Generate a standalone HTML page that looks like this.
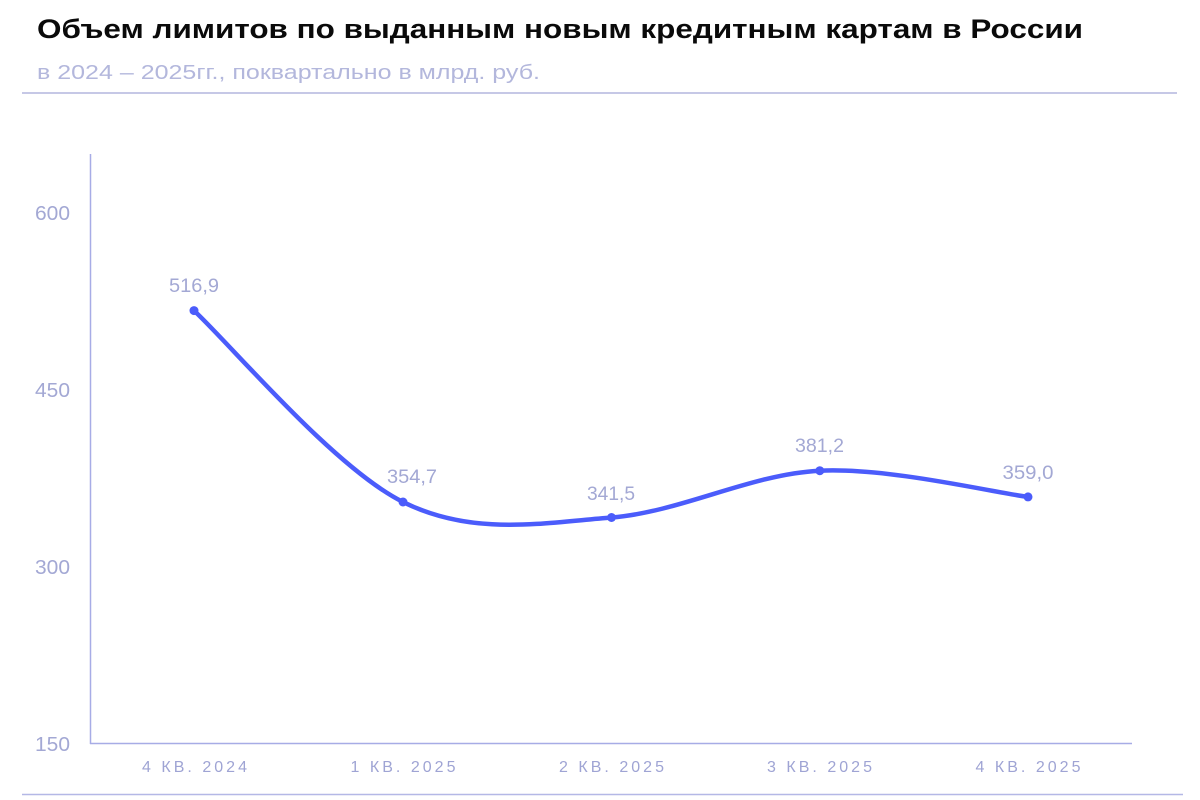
<!DOCTYPE html>
<html>
<head>
<meta charset="utf-8">
<style>
  html,body{margin:0;padding:0;background:#fff;}
  body{width:1200px;height:800px;overflow:hidden;}
  svg{display:block;}
  text{font-family:"Liberation Sans","Noto Sans CJK SC",sans-serif;}
</style>
</head>
<body>
<svg width="1200" height="800" viewBox="0 0 1200 800" xmlns="http://www.w3.org/2000/svg">
  <rect width="1200" height="800" fill="#fff"/>
  <!-- Title -->
  <text x="37" y="38" font-size="27" font-weight="bold" fill="#0a0a0a" textLength="1046" lengthAdjust="spacingAndGlyphs">Объем лимитов по выданным новым кредитным картам в России</text>
  <text x="37" y="79" font-size="20" fill="#b3b7dc" textLength="503" lengthAdjust="spacingAndGlyphs">в 2024 – 2025гг., поквартально в млрд. руб.</text>
  <line x1="22" y1="93" x2="1177" y2="93" stroke="#c6c8e6" stroke-width="2"/>

  <!-- Axes -->
  <line x1="90.5" y1="154" x2="90.5" y2="744" stroke="#a7ace6" stroke-width="1.5"/>
  <line x1="90" y1="743.5" x2="1132" y2="743.5" stroke="#a7ace6" stroke-width="1.5"/>

  <!-- Y tick labels -->
  <g font-size="20" fill="#a3a8d4" text-anchor="end">
    <text x="70" y="220" textLength="35" lengthAdjust="spacingAndGlyphs">600</text>
    <text x="70" y="397" textLength="35" lengthAdjust="spacingAndGlyphs">450</text>
    <text x="70" y="574" textLength="35" lengthAdjust="spacingAndGlyphs">300</text>
    <text x="70" y="751" textLength="35" lengthAdjust="spacingAndGlyphs">150</text>
  </g>

  <!-- X tick labels -->
  <g font-size="16" fill="#9fa4d4" text-anchor="middle">
    <text x="194.5" y="772" textLength="105" lengthAdjust="spacing">4 КВ. 2024</text>
    <text x="403" y="772" textLength="105" lengthAdjust="spacing">1 КВ. 2025</text>
    <text x="611.5" y="772" textLength="105" lengthAdjust="spacing">2 КВ. 2025</text>
    <text x="819.5" y="772" textLength="105" lengthAdjust="spacing">3 КВ. 2025</text>
    <text x="1028" y="772" textLength="105" lengthAdjust="spacing">4 КВ. 2025</text>
  </g>

  <!-- Bottom line -->
  <line x1="22" y1="794.5" x2="1183" y2="794.5" stroke="#b4b8e6" stroke-width="1.5"/>

  <!-- Series -->
  <path d="M194,310.6 C228.8,342.5 333.5,467.5 403,502 C472.5,536.5 541.5,523 611.5,517.5 C681,512 750.5,474 819.8,470.7 C889,467.4 993.3,492.5 1028,496.9"
        fill="none" stroke="#4b5cfb" stroke-width="4.5" stroke-linecap="round" stroke-linejoin="round"/>
  <g fill="#4b5cfb">
    <circle cx="194" cy="310.6" r="4.5"/>
    <circle cx="403" cy="502" r="4.5"/>
    <circle cx="611.5" cy="517.5" r="4.5"/>
    <circle cx="819.8" cy="470.7" r="4.5"/>
    <circle cx="1028" cy="496.9" r="4.5"/>
  </g>

  <!-- Value labels -->
  <g font-size="19" fill="#a3a8d4" text-anchor="middle">
    <text x="194" y="292" textLength="50" lengthAdjust="spacingAndGlyphs">516,9</text>
    <text x="412" y="483" textLength="50" lengthAdjust="spacingAndGlyphs">354,7</text>
    <text x="611" y="500" textLength="48" lengthAdjust="spacingAndGlyphs">341,5</text>
    <text x="819.5" y="452" textLength="49" lengthAdjust="spacingAndGlyphs">381,2</text>
    <text x="1028" y="479" textLength="51" lengthAdjust="spacingAndGlyphs">359,0</text>
  </g>
</svg>
</body>
</html>
